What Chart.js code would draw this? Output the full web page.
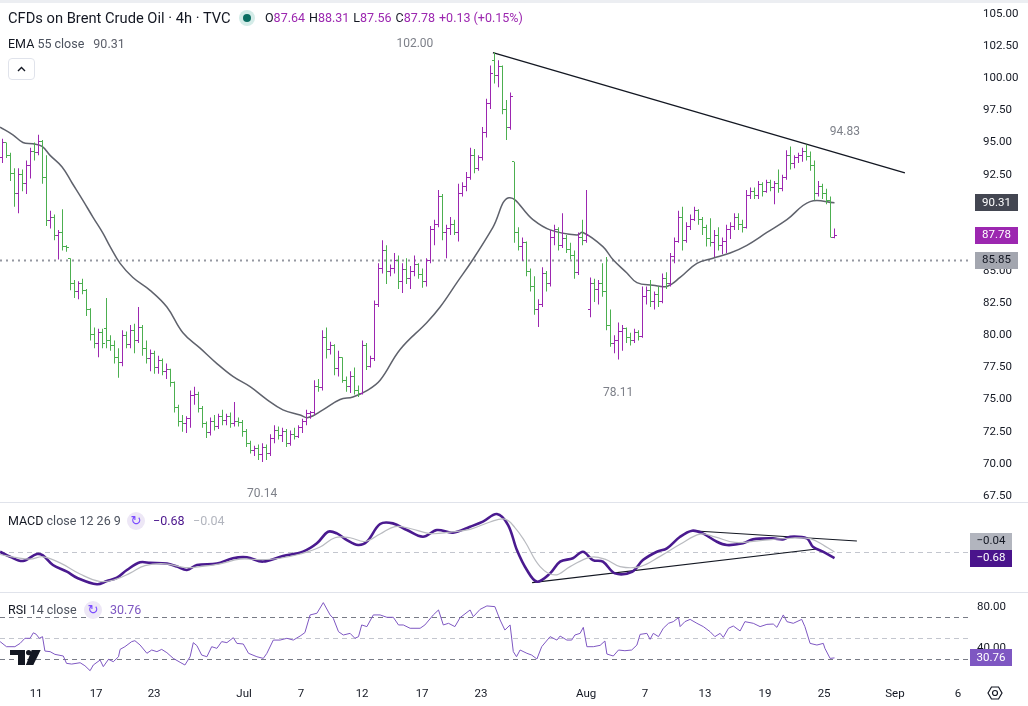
<!DOCTYPE html>
<html>
<head>
<meta charset="utf-8">
<script src="https://cdn.jsdelivr.net/npm/chart.js@4.4.1/dist/chart.umd.min.js"></script>
<style>
body { margin: 0; background: #fff; font-family: Roboto, "Noto Sans", sans-serif; color: #131722; }
#wrap { position: relative; width: 1028px; height: 706px; overflow: hidden; }
canvas { position: absolute; left: 0; top: 0; }
.t { position: absolute; white-space: nowrap; line-height: 16px; }
.pv { color: #9c27b0; margin-right: 4px; }
.ico { position: absolute; width: 18px; height: 18px; border-radius: 50%; background: #ede7f6; color: #7c4dff; font: 13px/18px "DejaVu Sans", sans-serif; text-align: center; }
</style>
</head>
<body>
<div id="wrap">
  <canvas id="chart" width="1028" height="706"></canvas>
  <div style="position:absolute;left:0;top:0;width:1028px;height:3px;background:#eceef2"></div>
  <div class="t" style="left:8px;top:10px;font-size:14.7px;">CFDs on Brent Crude Oil · 4h · TVC</div>
  <div style="position:absolute;left:239px;top:10px;width:16px;height:16px;border-radius:50%;background:#d4ece8"></div>
  <div style="position:absolute;left:243px;top:14px;width:8px;height:8px;border-radius:50%;background:#0b6e62"></div>
  <div class="t" style="left:265px;top:10px;font-size:12.5px;">O<span class="pv">87.64</span>H<span class="pv">88.31</span>L<span class="pv">87.56</span>C<span class="pv">87.78</span><span class="pv">+0.13 (+0.15%)</span></div>
  <div class="t" style="left:8px;top:36px;font-size:12.5px;">EMA <span style="color:#4c525e">55 close</span><span style="color:#5d606b;margin-left:9px">90.31</span></div>
  <div style="position:absolute;left:8px;top:58px;width:25px;height:20px;border:1px solid #e0e3eb;border-radius:4px;">
    <svg width="25" height="20"><polyline points="9,12 12.5,8.5 16,12" fill="none" stroke="#131722" stroke-width="1.4"/></svg>
  </div>
  <div class="t" style="left:8px;top:513px;font-size:12.5px;">MACD <span style="color:#4c525e">close 12 26 9</span></div>
  <div class="ico" style="left:127px;top:512px;">↻</div>
  <div class="t" style="left:153px;top:513px;font-size:12.5px;color:#4a148c;">−0.68</div>
  <div class="t" style="left:193px;top:513px;font-size:12.5px;color:#b2b5be;">−0.04</div>
  <div class="t" style="left:8px;top:602px;font-size:12.5px;">RSI <span style="color:#4c525e">14 close</span></div>
  <div class="ico" style="left:84px;top:601px;">↻</div>
  <div class="t" style="left:110px;top:602px;font-size:12.5px;color:#7e57c2;">30.76</div>
  <svg style="position:absolute;left:10px;top:649px" width="32" height="17">
    <path d="M0 1h15v15h-7v-10h-8z" fill="#131722"/>
    <circle cx="18.6" cy="3.6" r="2.6" fill="#131722"/>
    <path d="M21.7 1h9l-7.4 15h-7.4z" fill="#131722"/>
  </svg>
  <svg style="position:absolute;left:986px;top:684px" width="18" height="18">
    <polygon points="2,9 5.5,3 12.5,3 16,9 12.5,15 5.5,15" fill="none" stroke="#131722" stroke-width="1.2"/>
    <circle cx="9" cy="9" r="2.5" fill="none" stroke="#131722" stroke-width="1.2"/>
  </svg>
</div>
<script>
// 4h bars, index 0 = first bar on the left
const opens = [
  93.8, 95.0, 94.0, 92.6, 91.0, 92.5, 91.8, 93.2, 94.3, 94.2,
  95.1, 92.3, 88.9, 89.2, 87.8, 88.0, 86.9, 86.0, 84.0, 83.4,
  84.0, 83.5, 82.0, 80.1, 79.4, 80.2, 80.5, 79.6, 79.2, 78.3,
  77.9, 80.0, 79.3, 80.4, 79.6, 80.6, 79.0, 78.2, 78.6, 77.5,
  78.0, 77.2, 77.3, 76.3, 74.4, 73.3, 73.1, 73.5, 75.3, 75.4,
  74.3, 73.1, 72.4, 73.3, 72.9, 73.7, 73.4, 73.7, 73.1, 73.3,
  73.2, 72.5, 71.6, 71.0, 71.2, 70.7, 71.3, 70.8, 72.0, 72.6,
  72.2, 72.5, 71.6, 72.3, 72.1, 72.8, 73.3, 73.9, 74.0, 76.0,
  75.9, 79.8, 78.9, 79.2, 77.4, 78.3, 76.5, 76.0, 76.8, 75.7,
  75.5, 79.2, 77.6, 78.2, 82.4, 85.2, 86.6, 85.0, 85.2, 85.8,
  84.2, 85.1, 84.4, 85.0, 85.5, 84.7, 84.2, 85.8, 88.2, 88.6,
  90.8, 88.0, 88.3, 88.6, 88.0, 91.0, 91.6, 92.3, 94.0, 93.0,
  93.8, 95.8, 98.0, 101.4, 100.2, 100.9, 97.6, 96.2, 93.5, 88.0,
  86.9, 87.2, 85.0, 83.8, 82.0, 82.4, 84.8, 84.0, 87.6, 88.2,
  87.0, 87.5, 86.7, 86.2, 84.9, 87.6, 87.4, 82.0, 84.0, 83.6,
  84.0, 83.4, 80.8, 79.4, 79.6, 80.3, 80.5, 79.8, 79.6, 80.2,
  79.9, 83.0, 83.5, 82.6, 83.2, 82.6, 84.4, 84.0, 86.1, 87.3,
  89.2, 87.4, 88.5, 89.0, 89.7, 89.0, 88.4, 87.5, 87.2, 87.8,
  87.0, 87.3, 88.2, 88.5, 89.2, 88.6, 88.4, 90.9, 91.2, 90.9,
  91.7, 91.2, 91.9, 91.5, 91.8, 91.4, 92.3, 94.0, 93.4, 93.8,
  94.0, 94.3, 93.9, 93.2, 91.0, 91.6, 91.0, 90.5, 87.64
];
const highs = [
  95.3, 95.0, 94.2, 93.0, 93.0, 92.9, 93.6, 94.6, 95.0, 95.6,
  95.2, 94.0, 89.7, 89.4, 88.2, 89.8, 87.0, 86.0, 84.3, 84.2,
  84.4, 83.6, 82.1, 80.6, 80.5, 80.5, 82.9, 80.0, 79.6, 79.0,
  80.4, 80.3, 80.8, 80.9, 82.2, 80.8, 79.6, 78.9, 78.8, 78.4,
  78.2, 77.8, 77.4, 76.4, 74.6, 73.8, 73.7, 75.7, 76.0, 75.6,
  74.5, 73.3, 73.6, 73.8, 73.9, 74.2, 73.9, 74.0, 74.8, 73.6,
  73.4, 72.7, 71.8, 71.4, 71.5, 71.6, 71.5, 72.3, 73.0, 72.9,
  72.8, 72.7, 72.6, 72.8, 73.0, 73.5, 74.2, 74.1, 76.5, 76.6,
  80.4, 80.6, 79.5, 79.3, 78.8, 78.3, 76.8, 77.2, 77.5, 76.1,
  79.6, 79.4, 78.4, 82.7, 85.6, 87.4, 87.0, 85.5, 86.4, 86.2,
  85.6, 86.0, 85.4, 86.2, 85.6, 85.2, 86.0, 88.5, 89.0, 91.3,
  91.0, 88.6, 89.2, 89.0, 91.8, 91.9, 92.7, 94.6, 94.5, 94.0,
  96.2, 98.4, 101.0, 102.0, 101.4, 101.0, 98.3, 98.9, 93.5, 88.4,
  87.6, 87.3, 85.2, 84.6, 82.8, 85.3, 85.0, 88.2, 88.6, 88.4,
  89.5, 87.8, 87.2, 86.6, 88.0, 89.0, 91.3, 84.5, 84.4, 84.3,
  85.6, 86.1, 82.0, 80.0, 81.0, 80.8, 80.6, 80.2, 80.5, 80.4,
  83.8, 83.8, 84.3, 83.4, 83.8, 84.8, 84.9, 86.4, 87.6, 89.7,
  90.0, 88.8, 89.4, 90.0, 89.8, 89.2, 88.6, 89.1, 88.2, 88.4,
  87.6, 88.6, 88.8, 89.5, 89.5, 89.0, 91.3, 91.5, 91.5, 92.0,
  91.9, 92.1, 92.1, 92.0, 92.9, 92.5, 94.4, 94.7, 94.0, 94.2,
  94.6, 94.83, 94.3, 93.6, 92.0, 91.8, 91.4, 90.8, 88.31
];
const lows = [
  93.4, 93.8, 92.0, 90.0, 89.5, 91.2, 91.0, 92.2, 93.6, 94.0,
  91.8, 88.5, 88.3, 87.4, 85.9, 86.6, 86.5, 83.5, 82.9, 82.8,
  83.2, 81.5, 79.6, 79.0, 78.3, 79.0, 79.0, 78.8, 77.8, 76.7,
  77.6, 79.0, 79.0, 78.6, 79.4, 78.4, 77.8, 77.2, 77.0, 77.0,
  76.9, 76.6, 76.0, 74.0, 72.9, 72.5, 72.4, 72.8, 74.6, 74.0,
  72.8, 72.0, 72.2, 72.6, 72.7, 73.0, 73.0, 72.8, 72.9, 72.9,
  72.1, 71.3, 70.8, 70.6, 70.3, 70.14, 70.3, 70.6, 71.6, 71.9,
  71.7, 71.3, 71.4, 71.9, 72.0, 72.4, 73.0, 73.5, 73.8, 75.6,
  75.7, 78.2, 78.5, 76.9, 76.8, 76.3, 75.6, 75.5, 75.4, 75.2,
  75.4, 77.3, 77.5, 78.0, 82.2, 84.8, 84.0, 84.6, 84.8, 83.6,
  83.3, 84.0, 83.6, 84.6, 84.4, 83.7, 83.8, 85.6, 87.0, 88.4,
  87.4, 86.0, 87.8, 87.8, 87.3, 90.8, 91.2, 92.1, 92.6, 92.8,
  93.6, 95.4, 97.6, 99.6, 99.3, 97.2, 95.2, 96.0, 87.2, 86.6,
  85.8, 84.6, 83.4, 81.6, 80.65, 82.2, 83.4, 83.8, 87.0, 86.6,
  86.8, 86.4, 85.9, 84.4, 84.7, 87.0, 87.2, 81.4, 82.6, 82.4,
  83.0, 80.4, 79.1, 78.6, 78.11, 78.8, 79.4, 79.2, 79.4, 79.6,
  79.8, 82.4, 82.2, 82.0, 82.2, 82.5, 83.6, 83.8, 85.6, 87.2,
  86.6, 87.2, 88.2, 88.9, 88.6, 87.8, 86.9, 86.9, 86.1, 86.6,
  86.3, 86.4, 87.5, 88.2, 88.2, 88.0, 88.3, 90.6, 90.6, 90.6,
  90.8, 91.1, 91.2, 90.2, 91.1, 91.2, 92.1, 92.9, 93.0, 93.4,
  93.5, 93.6, 92.8, 90.5, 90.8, 90.6, 90.2, 87.6, 87.56
];
const closes = [
  95.0, 94.0, 92.6, 91.0, 92.5, 91.8, 93.2, 94.3, 94.2, 95.1,
  92.3, 88.9, 89.2, 87.8, 88.0, 86.9, 86.8, 84.0, 83.4, 84.0,
  83.5, 82.0, 80.1, 79.4, 80.2, 79.4, 79.6, 79.2, 78.3, 77.9,
  80.0, 79.3, 80.4, 79.6, 80.6, 79.0, 78.2, 78.6, 77.5, 78.0,
  77.2, 77.3, 76.3, 74.4, 73.3, 73.1, 73.5, 75.3, 75.4, 74.3,
  73.1, 72.4, 73.3, 72.9, 73.7, 73.4, 73.7, 73.1, 73.3, 73.2,
  72.5, 71.6, 71.0, 71.2, 70.7, 71.3, 70.8, 72.0, 72.6, 72.2,
  72.5, 71.6, 72.3, 72.1, 72.8, 73.3, 73.9, 74.0, 76.0, 75.9,
  79.8, 78.9, 79.2, 77.4, 78.3, 76.5, 76.0, 76.8, 75.7, 75.5,
  79.2, 77.6, 78.2, 82.4, 85.2, 86.6, 85.0, 85.2, 85.8, 84.2,
  85.1, 84.4, 85.0, 85.5, 84.7, 84.2, 85.8, 88.2, 88.6, 90.8,
  88.0, 88.3, 88.6, 88.0, 91.0, 91.6, 92.3, 94.0, 93.0, 93.8,
  95.8, 98.0, 100.4, 100.2, 100.9, 97.6, 96.2, 98.6, 88.0, 86.9,
  87.2, 85.0, 83.8, 82.0, 82.4, 84.8, 84.0, 87.6, 88.2, 87.0,
  87.5, 86.7, 86.2, 84.9, 87.6, 87.4, 87.8, 84.0, 83.6, 84.0,
  83.4, 80.8, 79.4, 79.6, 80.3, 80.5, 79.8, 79.6, 80.2, 79.9,
  83.0, 83.5, 82.6, 83.2, 82.6, 84.4, 84.0, 86.1, 87.3, 89.2,
  87.4, 88.5, 89.0, 89.7, 89.0, 88.4, 87.5, 87.2, 87.8, 87.0,
  87.3, 88.2, 88.5, 89.2, 88.6, 88.4, 90.9, 91.2, 90.9, 91.7,
  91.2, 91.9, 91.5, 91.8, 91.4, 92.3, 94.0, 93.4, 93.8, 94.0,
  94.3, 93.9, 93.2, 91.0, 91.6, 91.0, 90.5, 87.64, 87.78
];

// EMA 55 (x = bar index)
const emaIdx = [-0.6, 2.6, 5.1, 7.6, 9.9, 11.9, 14.9, 17.4, 20.1, 22.6, 25.1, 26.9, 29.4, 32.6, 36.9, 41.1, 45.1, 49.4, 53.6, 57.6,
  61.9, 66.1, 70.1, 74.4, 76.4, 80.1, 84.4, 87.6, 91.1, 94.4, 99.4, 106.1, 109.4, 113.6, 117.6, 122.6, 126.6, 132.6, 136.9, 143.6,
  145.1, 150.1, 152.6, 156.1, 158.6, 162.6, 166.1, 169.4, 173.6, 177.6, 181.9, 186.1, 191.1, 196.1, 201.9, 208];
const emaVal = [96.2, 95.6, 95.0, 94.9, 94.7, 94.0, 93.1, 91.85, 90.5, 89.2, 87.95, 86.9, 85.6, 84.5, 83.5, 82.2, 80.2, 79.0, 77.8, 76.8,
  76.0, 75.0, 74.2, 73.8, 73.6, 74.2, 75.0, 75.2, 75.7, 76.5, 78.9, 81.0, 82.2, 84.1, 85.9, 88.4, 90.7, 89.0, 88.2, 87.8,
  88.0, 86.9, 85.9, 84.85, 84.1, 83.9, 83.8, 84.5, 85.6, 86.0, 86.4, 87.0, 88.0, 89.0, 90.4, 90.31];

// MACD 12 26 9
const macdIdx = [-0.6, 1.9, 5.1, 8.6, 10.1, 12.6, 16.1, 18.6, 23.6, 26.1, 28.6, 31.1, 34.4, 36.9, 41.1, 43.6, 46.1, 48.6, 53.6, 57.6,
  61.1, 65.1, 70.1, 75.1, 78.6, 81.4, 83.6, 86.1, 88.9, 91.1, 94.4, 97.6, 101.1, 105.1, 108.6, 112.6, 116.9, 120.1, 123.6, 126.4,
  128.6, 131.1, 133.6, 136.9, 139.4, 142.6, 145.1, 147.6, 150.1, 153.1, 157.4, 160.1, 163.6, 166.1, 169.4, 172.4, 175.1, 178.6, 181.1, 185.1,
  187.6, 192.6, 195.1, 196.9, 201.1, 202.6, 205.1, 208];
const macdVal = [0, -0.54, -1.0, -0.25, -0.4, -1.43, -2.15, -2.8, -3.5, -3.15, -2.8, -1.97, -1.14, -1.2, -1.27, -1.6, -1.97, -1.43, -1.27, -0.7,
  -0.6, -1.06, -0.47, 0, 0.9, 2.15, 1.97, 1.25, 0.72, 1.08, 2.98, 3.05, 2.33, 1.61, 2.33, 2.05, 2.69, 3.23, 4.05, 2.87,
  0.18, -1.97, -3.22, -2.33, -1.07, -0.7, 0, -0.9, -1.07, -2.33, -2.15, -0.9, 0, 0.36, 1.61, 2.26, 1.97, 1.07, 0.72, 0.9,
  1.33, 1.43, 1.33, 1.61, 1.43, 0.54, 0, -0.68];
const sigIdx = [-0.6, 3.1, 6.9, 10.1, 14.4, 19.4, 24.4, 28.1, 31.9, 35.6, 40.6, 45.6, 49.4, 54.4, 59.4, 64.4, 69.4, 74.4, 79.4, 83.1,
  86.9, 90.6, 94.4, 98.1, 101.9, 106.9, 111.9, 116.9, 121.9, 125.6, 128.1, 130.6, 134.4, 138.1, 141.9, 146.9, 150.6, 154.4, 159.4, 164.4,
  169.4, 174.4, 178.1, 183.1, 189.4, 196.9, 201.9, 205.6, 208];
const sigVal = [-0.3, -0.6, -0.8, -0.55, -1.2, -2.4, -3.2, -3.0, -2.3, -1.5, -1.3, -1.7, -1.6, -1.3, -0.8, -0.85, -0.7, -0.25, 0.5, 1.5,
  1.5, 1.1, 1.9, 2.7, 2.5, 1.95, 2.1, 2.4, 3.2, 3.5, 2.6, 1.1, -1.6, -2.5, -1.6, -0.6, -0.8, -1.6, -1.6, -0.5,
  0.8, 1.9, 1.6, 1.0, 1.2, 1.45, 1.4, 0.6, -0.04];

// RSI 14
const rsiIdx = [-0.6, 1.0, 3.1, 4.4, 5.6, 6.9, 7.7, 8.4, 9.2, 10.0, 10.6, 11.9, 13.1, 15.2, 16.0, 17.3, 19.4, 20.6, 21.9, 22.7,
  24.4, 25.2, 26.5, 27.7, 29.0, 29.4, 30.6, 32.3, 33.1, 34.4, 36.1, 37.3, 38.6, 39.8, 41.1, 42.7, 44.4, 45.6, 46.9, 47.7,
  48.6, 49.8, 51.1, 52.3, 53.6, 54.8, 56.1, 57.7, 58.6, 60.2, 61.5, 63.6, 65.2, 66.1, 67.7, 69.4, 71.1, 72.7, 74.4, 75.6,
  76.9, 78.6, 80.2, 81.9, 82.7, 84.0, 85.2, 86.9, 88.1, 89.0, 89.8, 91.1, 92.7, 94.4, 96.1, 97.7, 99.0, 100.2, 101.9, 104.4,
  105.6, 107.7, 109.0, 110.2, 111.5, 113.1, 114.4, 116.9, 117.7, 119.4, 121.1, 123.1, 124.4, 125.6, 126.9, 127.7, 128.5, 129.4, 131.1, 132.3,
  133.6, 134.8, 136.9, 138.6, 139.4, 141.1, 142.3, 143.1, 144.4, 145.2, 146.1, 147.7, 149.4, 150.6, 151.1, 152.7, 154.0, 155.6, 157.3, 158.6,
  159.4, 161.1, 161.9, 162.7, 164.0, 165.2, 166.5, 167.7, 169.0, 169.4, 170.6, 171.9, 173.6, 175.2, 176.9, 178.1, 179.4, 180.2, 181.5, 182.7,
  184.4, 185.6, 187.7, 189.4, 191.1, 192.7, 193.6, 195.2, 196.1, 197.7, 199.8, 200.6, 201.9, 203.6, 205.2, 205.6, 206.9, 208];
const rsiVal = [46.5, 41.6, 41.6, 44.8, 49.7, 49.7, 55.0, 53.7, 49.7, 51.3, 37.4, 36.8, 34.2, 32.6, 25.5, 24.8, 26.1, 23.2, 18.4, 23.9,
  28.7, 22.3, 29.4, 27.1, 31.9, 39.0, 41.6, 46.5, 47.4, 43.2, 35.2, 38.4, 36.8, 39.0, 35.8, 30.3, 26.5, 23.9, 31.9, 45.5,
  42.6, 33.5, 31.9, 41.6, 40.0, 46.5, 45.5, 50.3, 44.8, 44.2, 35.2, 31.9, 30.3, 35.2, 48.0, 48.0, 49.7, 48.0, 51.9, 55.2,
  72.3, 73.9, 84.2, 72.3, 69.0, 56.1, 52.9, 54.5, 49.7, 51.3, 62.6, 61.0, 72.3, 72.3, 70.0, 70.0, 62.6, 62.6, 59.4, 59.4,
  62.6, 72.3, 77.1, 62.6, 64.2, 61.0, 69.7, 77.1, 70.6, 77.7, 81.0, 80.3, 67.4, 57.7, 62.6, 36.8, 31.9, 38.4, 35.2, 33.5,
  29.7, 41.6, 51.3, 48.0, 51.9, 48.0, 48.0, 52.9, 54.5, 60.3, 41.6, 41.6, 42.9, 47.1, 34.5, 32.6, 38.4, 37.7, 38.4, 43.2,
  53.5, 54.5, 48.7, 54.5, 51.3, 59.4, 64.2, 65.8, 69.7, 61.0, 65.8, 68.0, 64.2, 61.0, 56.1, 51.3, 54.5, 50.6, 59.4, 61.6,
  56.8, 65.8, 64.2, 61.0, 63.2, 63.5, 60.3, 72.3, 65.8, 64.2, 68.0, 61.0, 44.8, 43.2, 44.8, 40.0, 30.3, 30.76];

// drawings
const trendIdx = [122.6, 225.6], trendVal = [102.0, 92.63];
const macdUpIdx = [172.4, 213.6], macdUpVal = [2.26, 1.15];
const macdLoIdx = [132.4, 203.6], macdLoVal = [-3.32, 0.29];
const noteIdx = [103.1, 210.6, 153.9, 64.9];
const noteVal = [102.67, 95.82, 75.5, 67.65];
const noteTxt = ['102.00', '94.83', '78.11', '70.14'];
const supportLevel = 85.85;
const rsiLevels = [70, 50, 30];

// axes
const dateIdx = [8.4, 23.4, 37.9, 60.4, 74.6, 89.9, 104.9, 119.6, 145.9, 160.6, 175.6, 190.6, 205.4, 223.1, 238.9];
const dateLbl = ['11', '17', '23', 'Jul', '7', '12', '17', '23', 'Aug', '7', '13', '19', '25', 'Sep', '6'];
const priceTicks = [67.5, 70, 72.5, 75, 77.5, 80, 82.5, 85, 87.5, 90, 92.5, 95, 97.5, 100, 102.5, 105];
const rsiTicks = [40, 80];

const UP = '#9c27b0', DN = '#4caf50';
const barColors = closes.map((c, i) => c >= opens[i] ? UP : DN);
const pts = (xs, ys) => xs.map((x, i) => ({ x: x, y: ys[i] }));
const fmt = v => (v < 0 ? '\u2212' : '') + Math.abs(v).toFixed(2);

function tag(ctx, x, yc, w, bg, fg, txt) {
    const h = 17;
    ctx.fillStyle = bg;
    ctx.fillRect(x, Math.round(yc - h / 2), w, h);
    ctx.fillStyle = fg;
    ctx.font = '11.5px Roboto';
    ctx.textAlign = 'center';
    ctx.textBaseline = 'middle';
    ctx.fillText(txt, x + w / 2, Math.round(yc) + 0.5);
}

const decor = {
    id: 'decor',
    beforeDatasetsDraw(chart) {
        const { ctx, chartArea: { left, right }, scales: { y, yM, yR } } = chart;
        const hline = (py, color, dash, lw) => {
            ctx.strokeStyle = color;
            ctx.lineWidth = lw;
            ctx.setLineDash(dash);
            ctx.beginPath();
            ctx.moveTo(left, Math.round(py) + 0.5);
            ctx.lineTo(right, Math.round(py) + 0.5);
            ctx.stroke();
        };
        ctx.save();
        hline(y.getPixelForValue(supportLevel) - 0.5, '#9598a1', [2, 4], 2);
        hline(yM.getPixelForValue(0), '#c3c6ce', [5, 4], 1);
        rsiLevels.forEach(v => hline(yR.getPixelForValue(v), v === 50 ? '#c3c6ce' : '#787b86', [5, 4], 1));
        ctx.restore();
    },
    afterDatasetsDraw(chart) {
        const { ctx, scales: { x, y } } = chart;
        ctx.save();
        closes.forEach((c, i) => {
            const px = Math.round(x.getPixelForValue(i) - 0.5);
            ctx.fillStyle = barColors[i];
            ctx.fillRect(px - 2, Math.round(y.getPixelForValue(opens[i]) - 0.5), 2, 1);
            ctx.fillRect(px + 1, Math.round(y.getPixelForValue(c) - 0.5), 2, 1);
        });
        ctx.fillStyle = '#7d8089';
        ctx.font = '12px Roboto';
        ctx.textAlign = 'center';
        ctx.textBaseline = 'middle';
        noteTxt.forEach((t, i) => ctx.fillText(t, x.getPixelForValue(noteIdx[i]), y.getPixelForValue(noteVal[i])));
        ctx.restore();
    },
    afterDraw(chart) {
        const { ctx, chartArea: { right }, scales: { y, yM, yR } } = chart;
        ctx.save();
        ctx.fillStyle = '#e0e3eb';
        ctx.fillRect(0, Math.round(yM.top) - 1, chart.width, 1);
        ctx.fillRect(0, Math.round(yR.top) - 1, chart.width, 1);

        const last = closes.length - 1;
        tag(ctx, right + 5, y.getPixelForValue(emaVal[emaVal.length - 1]), 43, '#434651', '#fff', emaVal[emaVal.length - 1].toFixed(2));
        tag(ctx, right + 5, y.getPixelForValue(closes[last]), 43, UP, '#fff', closes[last].toFixed(2));
        tag(ctx, right + 5, y.getPixelForValue(supportLevel), 43, '#a3a6af', '#131722', supportLevel.toFixed(2));

        const mLast = macdVal[macdVal.length - 1], sLast = sigVal[sigVal.length - 1];
        let yMac = yM.getPixelForValue(mLast), ySig = yM.getPixelForValue(sLast);
        if (Math.abs(yMac - ySig) < 17) ySig = yMac - 17;
        tag(ctx, right, ySig, 42, '#b2b5be', '#131722', fmt(sLast));
        tag(ctx, right, yMac, 42, '#4a148c', '#fff', fmt(mLast));

        const rLast = rsiVal[rsiVal.length - 1];
        tag(ctx, right, yR.getPixelForValue(rLast), 42, '#7e57c2', '#fff', rLast.toFixed(2));
        ctx.restore();
    }
};

const lineDs = (data, axis, color, width, tension) => ({
    type: 'line', data: data, yAxisID: axis, borderColor: color, borderWidth: width,
    pointRadius: 0, tension: tension, fill: false
});

// fixed axis sizes, no extra label padding around the panes
const axisFit = s => { s.width = 58; s.paddingTop = 0; s.paddingBottom = 0; };

new Chart(document.getElementById('chart'), {
    type: 'bar',
    data: {
        datasets: [
            {
                type: 'bar', yAxisID: 'y',
                data: closes.map((c, i) => ({ x: i, y: [lows[i], highs[i]] })),
                backgroundColor: barColors, barThickness: 1, borderWidth: 0, inflateAmount: 0
            },
            lineDs(pts(emaIdx, emaVal), 'y', '#5f626c', 1.5, 0.4),
            lineDs(pts(trendIdx, trendVal), 'y', '#131722', 1.3, 0),
            lineDs(pts(sigIdx, sigVal), 'yM', '#b9bbc0', 1.2, 0.4),
            lineDs(pts(macdIdx, macdVal), 'yM', '#4a1a8f', 2.6, 0.35),
            lineDs(pts(macdUpIdx, macdUpVal), 'yM', '#131722', 1.1, 0),
            lineDs(pts(macdLoIdx, macdLoVal), 'yM', '#131722', 1.1, 0),
            lineDs(pts(rsiIdx, rsiVal), 'yR', '#7e57c2', 1, 0)
        ]
    },
    options: {
        responsive: false,
        animation: false,
        devicePixelRatio: 1,
        events: [],
        layout: { padding: 0 },
        plugins: { legend: { display: false }, tooltip: { enabled: false } },
        scales: {
            x: {
                type: 'linear', min: -0.625, max: 241.875, offset: false,
                grid: { display: false, drawTicks: false, offset: false }, border: { display: false },
                afterBuildTicks: s => { s.ticks = dateIdx.map(v => ({ value: v })); },
                afterFit: s => { s.height = 23; s.paddingLeft = 0; s.paddingRight = 0; },
                ticks: {
                    autoSkip: false, maxRotation: 0, padding: 4, color: '#131722',
                    font: { family: 'Roboto', size: 11.5 },
                    callback: (v, i) => dateLbl[i]
                }
            },
            y: {
                position: 'right', stack: 'panes', stackWeight: 503, min: 66.95, max: 106.09,
                grid: { display: false, drawTicks: false }, border: { display: false },
                afterBuildTicks: s => { s.ticks = priceTicks.map(v => ({ value: v })); },
                afterFit: axisFit,
                ticks: { padding: 13, color: '#131722', font: { family: 'Roboto', size: 11.5 }, callback: v => v.toFixed(2) }
            },
            yM: {
                position: 'right', stack: 'panes', stackWeight: 90, min: -4.44, max: 5.24,
                grid: { display: false, drawTicks: false }, border: { display: false },
                afterFit: axisFit,
                ticks: { display: false }
            },
            yR: {
                position: 'right', stack: 'panes', stackWeight: 90, min: 6.5, max: 93.5,
                grid: { display: false, drawTicks: false }, border: { display: false },
                afterBuildTicks: s => { s.ticks = rsiTicks.map(v => ({ value: v })); },
                afterFit: axisFit,
                ticks: { padding: 7, color: '#131722', font: { family: 'Roboto', size: 11.5 }, callback: v => v.toFixed(2) }
            }
        }
    },
    plugins: [decor]
});
</script>
</body>
</html>
